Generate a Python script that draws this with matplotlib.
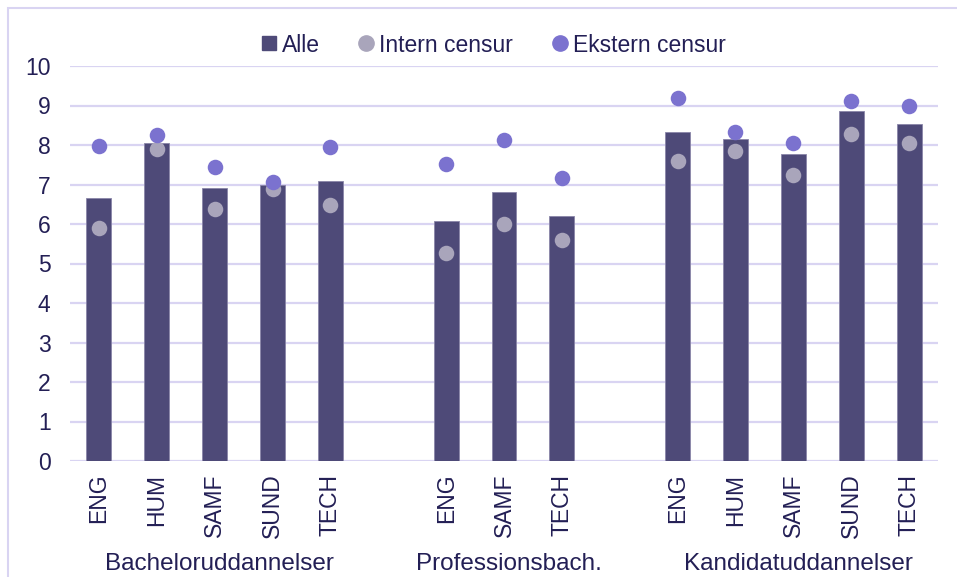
import numpy as np
import matplotlib.pyplot as plt
from matplotlib.patches import Rectangle
from matplotlib.lines import Line2D

plt.rcParams['font.family'] = ['Liberation Sans', 'DejaVu Sans']

# data
groups = ['Bacheloruddannelser', 'Professionsbach.', 'Kandidatuddannelser']
group_cats = [['ENG', 'HUM', 'SAMF', 'SUND', 'TECH'],
              ['ENG', 'SAMF', 'TECH'],
              ['ENG', 'HUM', 'SAMF', 'SUND', 'TECH']]
alle = [6.67, 8.04, 6.92, 6.99, 7.09,
        6.07, 6.81, 6.19,
        8.32, 8.15, 7.77, 8.87, 8.52]
intern = [5.89, 7.89, 6.38, 6.88, 6.49,
          5.26, 6.00, 5.59,
          7.60, 7.85, 7.25, 8.28, 8.05]
ekstern = [7.97, 8.26, 7.44, 7.07, 7.96,
           7.53, 8.12, 7.16,
           9.19, 8.32, 8.04, 9.12, 8.98]

txt = '#231f55'
bar_col = '#4e4a78'
int_col = '#a9a5bb'
eks_col = '#7b72cf'
grid_col = '#d9d4f2'

# positions with an empty slot between groups
pos = []
labels = []
group_centers = []
p = 0
for cats in group_cats:
    start = p
    for c in cats:
        pos.append(p)
        labels.append(c)
        p += 1
    group_centers.append((start + p - 1) / 2)
    p += 1
pos = np.array(pos)

fig = plt.figure(figsize=(9.57, 5.77), dpi=100)
ax = fig.add_axes([70 / 957, 116 / 577, 868 / 957, 395 / 577])

ax.bar(pos, alle, width=0.43, color=bar_col, edgecolor='#8a86a8', linewidth=0.6, zorder=2)
ax.scatter(pos, intern, s=125, color=int_col, zorder=3, linewidths=0)
ax.scatter(pos, ekstern, s=125, color=eks_col, zorder=4, linewidths=0)

ax.set_xlim(-0.5, p - 1.5)
ax.set_ylim(0, 10)
ax.set_yticks(range(0, 11))
ax.yaxis.grid(True, color=grid_col, linewidth=1.6, zorder=0)
ax.set_axisbelow(True)
for s in ax.spines.values():
    s.set_visible(False)
ax.tick_params(axis='both', length=0, colors=txt, labelsize=16.5)
ax.tick_params(axis='y', pad=14)
ax.set_xticks(pos)
ax.set_xticklabels(labels, rotation=90, fontsize=16.5, color=txt)
ax.tick_params(axis='x', pad=9)

for gc, g in zip(group_centers, groups):
    ax.text(gc + 0.08, -0.26, g, transform=ax.get_xaxis_transform(), ha='center', va='center',
            fontsize=17.5, color=txt)

handles = [Line2D([], [], marker='s', linestyle='', color=bar_col, markersize=10),
           Line2D([], [], marker='o', linestyle='', color=int_col, markersize=11),
           Line2D([], [], marker='o', linestyle='', color=eks_col, markersize=11)]
fig.legend(handles, ['Alle', 'Intern censur', 'Ekstern censur'], loc='center',
           bbox_to_anchor=(492 / 957, 1 - 45 / 577), ncol=3, frameon=False,
           fontsize=16.5, labelcolor=txt, handletextpad=0.1, columnspacing=1.6,
           handlelength=0.9)

# thin frame round the chart
fig.patches.append(Rectangle((8 / 957, -0.1), 1.2, 1 - 8 / 577 + 0.1, transform=fig.transFigure,
                             fill=False, edgecolor=grid_col, linewidth=1.5))

fig.savefig('out.png', dpi=100)
